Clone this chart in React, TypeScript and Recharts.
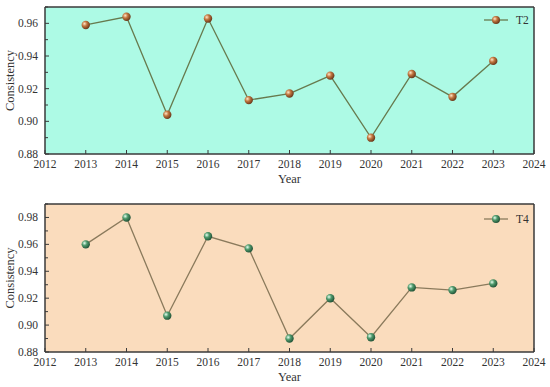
import { LineChart, Line, XAxis, YAxis, CartesianGrid } from 'recharts';

const years = [2013, 2014, 2015, 2016, 2017, 2018, 2019, 2020, 2021, 2022, 2023];
const t2Values = [0.959, 0.964, 0.904, 0.963, 0.913, 0.917, 0.928, 0.89, 0.929, 0.915, 0.937];
const t4Values = [0.96, 0.98, 0.907, 0.966, 0.957, 0.89, 0.92, 0.891, 0.928, 0.926, 0.931];

const xTicks = [2012, 2013, 2014, 2015, 2016, 2017, 2018, 2019, 2020, 2021, 2022, 2023, 2024];
const yTicksTop = [0.88, 0.89, 0.9, 0.91, 0.92, 0.93, 0.94, 0.95, 0.96, 0.97];
const yTicksBottom = [0.88, 0.89, 0.9, 0.91, 0.92, 0.93, 0.94, 0.95, 0.96, 0.97, 0.98, 0.99];

const FONT = '"Liberation Serif", "DejaVu Serif", serif';
const AXIS = '#3a3a3a';

const topData = years.map((year, i) => ({ year, value: t2Values[i] }));
const bottomData = years.map((year, i) => ({ year, value: t4Values[i] }));

function XTick(props: any) {
  const { x, y, payload } = props;
  return (
    <g>
      <line x1={x} x2={x} y1={y} y2={y - 4} stroke={AXIS} strokeWidth={1} />
      <text x={x} y={y + 14} textAnchor="middle" fontSize={11.5} fontFamily={FONT} fill="#333">
        {payload.value}
      </text>
    </g>
  );
}

function YTick(props: any) {
  const { x, y, payload } = props;
  const major = Math.round(payload.value * 100) % 2 === 0;
  return (
    <g>
      <line x1={x} x2={x + (major ? 4 : 3)} y1={y} y2={y} stroke={AXIS} strokeWidth={1} />
      {major && (
        <text x={x - 7} y={y + 4} textAnchor="end" fontSize={11.5} fontFamily={FONT} fill="#333">
          {payload.value.toFixed(2)}
        </text>
      )}
    </g>
  );
}

function Sphere({ cx, cy, grad }: { cx: number; cy: number; grad: string }) {
  return <circle cx={cx} cy={cy} r={4.2} fill={`url(#${grad})`} stroke="none" />;
}

function LegendBox({ name, lineColor, grad, top }: { name: string; lineColor: string; grad: string; top: number }) {
  return (
    <svg width={60} height={16} style={{ position: 'absolute', left: 482, top }}>
      <line x1={2} x2={26} y1={8} y2={8} stroke={lineColor} strokeWidth={1.3} />
      <circle cx={14} cy={8} r={4} fill={`url(#${grad})`} />
      <text x={34} y={12} fontSize={11.5} fontFamily={FONT} fill="#333">
        {name}
      </text>
    </svg>
  );
}

function Panel(props: {
  data: { year: number; value: number }[];
  height: number;
  top: number;
  bottom: number;
  yMax: number;
  yTicks: number[];
  bg: string;
  lineColor: string;
  grad: string;
  name: string;
  yearOffset: number;
}) {
  const { data, height, top, bottom, yMax, yTicks, bg, lineColor, grad, name, yearOffset } = props;
  return (
    <LineChart width={550} height={height} data={data} margin={{ top, right: 16, left: 0, bottom: 0 }}>
      <CartesianGrid
        fill={bg}
        stroke={AXIS}
        strokeWidth={1.5}
        horizontalCoordinatesGenerator={({ offset }: any) => [offset.top]}
        verticalCoordinatesGenerator={({ offset }: any) => [offset.left + offset.width]}
      />
      <XAxis
        dataKey="year"
        type="number"
        domain={[2012, 2024]}
        ticks={xTicks}
        height={bottom}
        tickSize={0}
        tickMargin={0}
        tick={<XTick />}
        axisLine={{ stroke: AXIS, strokeWidth: 1.5 }}
        label={{ value: 'Year', position: 'insideBottom', offset: yearOffset, fontSize: 12.5, fontFamily: FONT, fill: '#333' }}
      />
      <YAxis
        type="number"
        domain={[0.88, yMax]}
        ticks={yTicks}
        width={45}
        tickSize={0}
        tickMargin={0}
        tick={<YTick />}
        interval={0}
        axisLine={{ stroke: AXIS, strokeWidth: 1.5 }}
        label={{
          content: ({ viewBox }: any) => {
            const cy = viewBox.y + viewBox.height / 2;
            return (
              <text x={14} y={cy} transform={`rotate(-90 14 ${cy})`} textAnchor="middle" fontSize={12.5} fontFamily={FONT} fill="#333">
                Consistency
              </text>
            );
          },
        }}
      />
      <Line
        dataKey="value"
        name={name}
        stroke={lineColor}
        strokeWidth={1.3}
        isAnimationActive={false}
        dot={(p: any) => <Sphere key={p.index} cx={p.cx} cy={p.cy} grad={grad} />}
        activeDot={false}
      />
    </LineChart>
  );
}

export default function App() {
  return (
    <div style={{ position: 'absolute', left: 0, top: 0, width: 550, height: 387, background: '#fff' }}>
      <svg width={0} height={0} style={{ position: 'absolute' }}>
        <defs>
          <radialGradient id="sphereRed" cx="35%" cy="35%" r="65%">
            <stop offset="0%" stopColor="#ffe6c8" />
            <stop offset="45%" stopColor="#c2763f" />
            <stop offset="100%" stopColor="#6e3a1c" />
          </radialGradient>
          <radialGradient id="sphereGreen" cx="35%" cy="35%" r="65%">
            <stop offset="0%" stopColor="#e8fff0" />
            <stop offset="45%" stopColor="#4f9a6c" />
            <stop offset="100%" stopColor="#24563a" />
          </radialGradient>
        </defs>
      </svg>
      <Panel
        data={topData}
        height={193}
        top={7}
        bottom={39}
        yMax={0.97}
        yTicks={yTicksTop}
        bg="#adfae5"
        lineColor="#677a4e"
        grad="sphereRed"
        name="T2"
        yearOffset={10}
      />
      <Panel
        data={bottomData}
        height={194}
        top={11}
        bottom={35}
        yMax={0.99}
        yTicks={yTicksBottom}
        bg="#fadcbd"
        lineColor="#8a7a5c"
        grad="sphereGreen"
        name="T4"
        yearOffset={6}
      />
      <LegendBox name="T2" lineColor="#677a4e" grad="sphereRed" top={12} />
      <LegendBox name="T4" lineColor="#8a7a5c" grad="sphereGreen" top={211} />
    </div>
  );
}
